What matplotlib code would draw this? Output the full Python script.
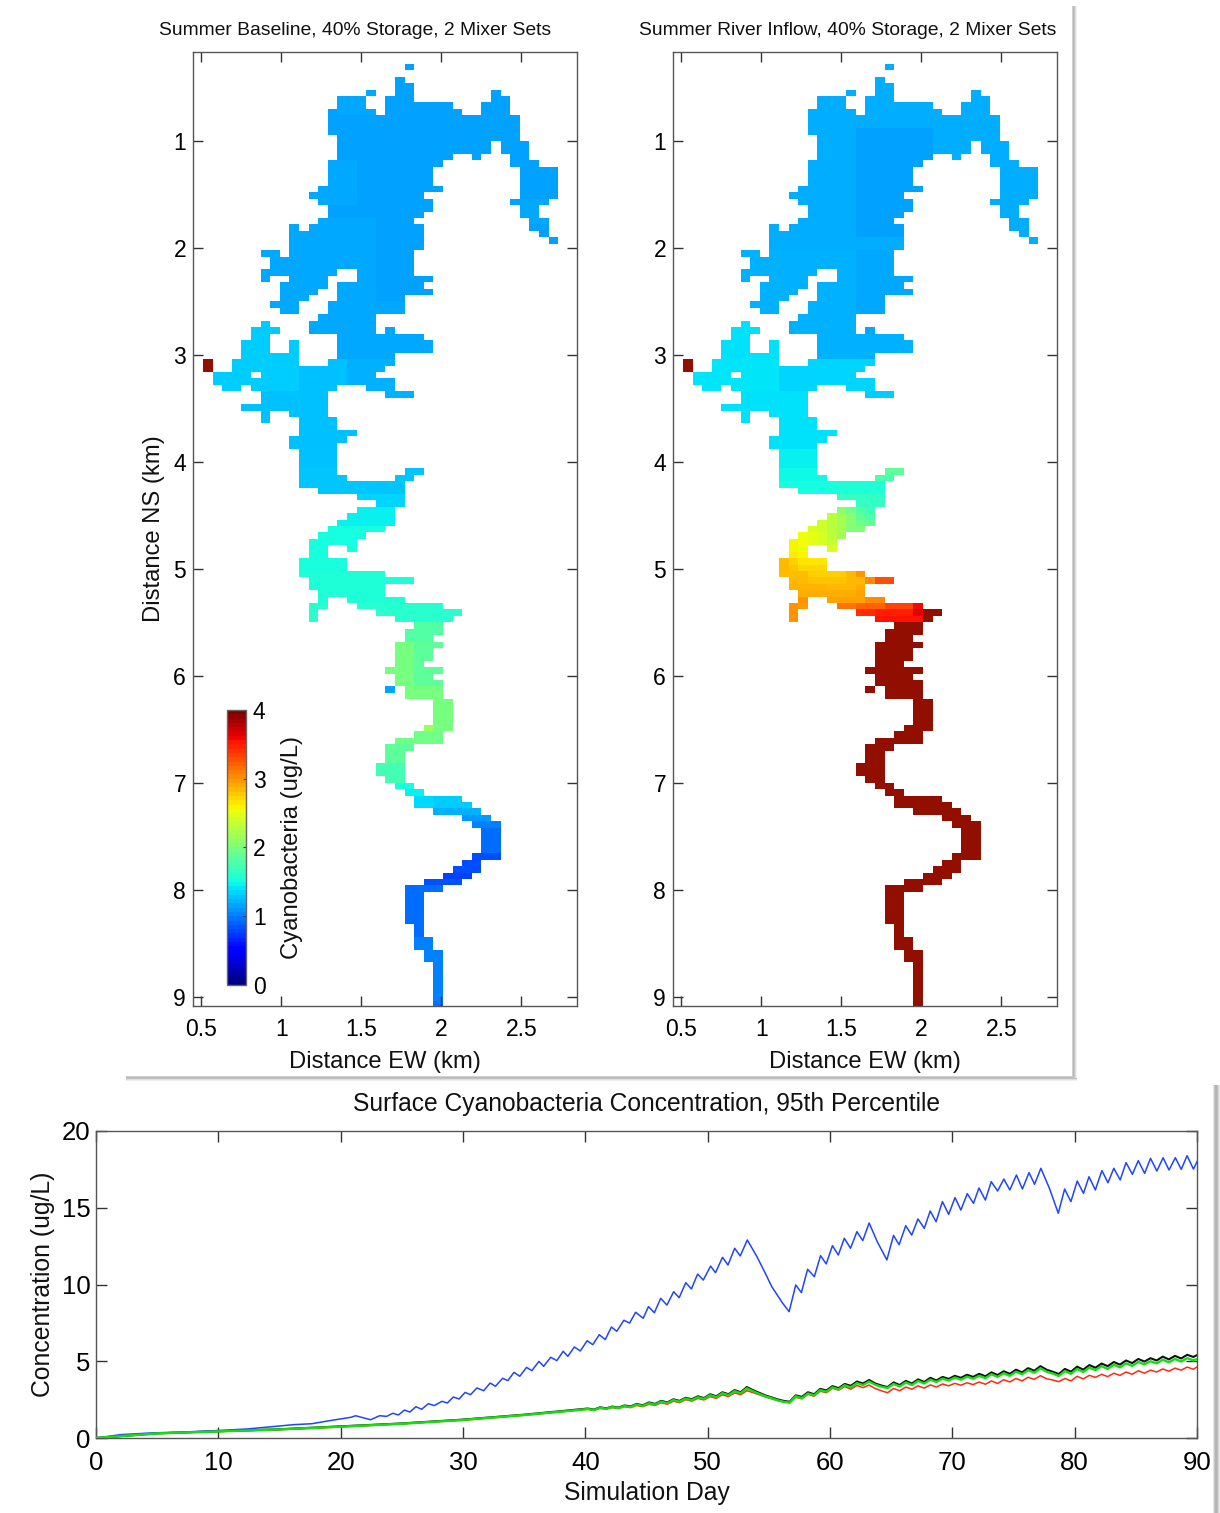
import numpy as np
import matplotlib
matplotlib.use("Agg")
import matplotlib.pyplot as plt
from matplotlib.patches import Rectangle
from matplotlib.colors import ListedColormap

plt.rcParams['font.family'] = ['Liberation Sans', 'DejaVu Sans']

# ---- lake outline: (row, first column, last column); cells are 0.06 km square
LAKE_RUNS = [
 (0,21,21),(2,20,20),(3,20,21),(4,17,17),(4,20,21),(4,30,30),(5,14,16),(5,19,21),(5,30,31),
 (6,14,16),(6,19,25),(6,29,31),(7,13,17),(7,19,26),(7,29,31),(8,13,32),(9,13,32),(10,13,32),
 (11,14,32),(12,14,29),(12,31,33),(13,14,29),(13,31,33),(14,14,25),(14,28,28),(14,32,33),
 (15,13,24),(15,32,34),(16,13,23),(16,33,36),(17,13,23),(17,33,36),(18,13,23),(18,33,36),
 (19,12,24),(19,33,36),(20,11,22),(20,33,36),(21,12,23),(21,32,35),(22,13,23),(22,33,34),
 (23,13,22),(23,33,34),(24,12,21),(24,34,35),(25,9,9),(25,11,22),(25,34,35),(26,9,22),(26,35,35),
 (27,9,22),(27,36,36),(28,9,22),(29,6,7),(29,9,21),(30,7,21),(31,7,21),(32,6,13),(32,16,21),
 (33,6,6),(33,9,12),(33,16,23),(34,8,12),(34,14,22),(35,8,11),(35,14,23),(36,8,10),(36,14,20),
 (37,7,9),(37,13,20),(38,8,9),(38,13,20),(39,12,17),(40,6,6),(40,11,17),(41,5,7),(41,11,17),(41,19,19),
 (42,5,6),(42,14,22),(43,4,6),(43,9,9),(43,14,23),(44,4,6),(44,9,9),(44,14,23),(45,4,9),(45,14,19),
 (46,0,0),(46,3,9),(46,13,19),(47,0,0),(47,3,18),(48,1,4),(48,6,17),(49,1,19),(50,2,3),(50,5,13),(50,17,19),
 (51,6,12),(51,19,21),(52,6,12),(53,4,12),(54,6,6),(54,9,12),(55,6,6),(55,10,13),(56,10,13),(57,10,15),
 (58,9,14),(59,9,13),(60,10,13),(61,10,13),(62,10,13),(63,10,13),(63,21,22),(64,10,14),(64,20,21),
 (65,10,20),(66,12,20),(67,16,20),(68,18,20),(69,16,19),(70,15,19),(71,14,19),(72,13,18),(73,12,16),
 (74,11,15),(75,11,12),(75,15,15),(76,11,12),(77,10,14),(78,10,14),(79,10,18),(80,11,21),(81,11,18),
 (82,12,18),(83,12,12),(83,15,20),(84,11,12),(84,16,24),(85,11,11),(85,18,26),(86,11,11),(86,20,25),
 (87,22,24),(88,21,24),(89,21,23),(90,20,24),(91,20,23),(92,20,23),(93,20,22),(94,19,24),(95,20,23),
 (96,20,24),(97,19,19),(97,21,24),(98,21,24),(99,24,25),(100,24,25),(101,24,25),(102,24,25),(103,23,25),
 (104,22,24),(105,20,24),(106,19,21),(107,19,20),(108,19,20),(109,18,20),(110,18,20),(111,19,20),
 (112,20,21),(113,21,22),(114,22,26),(115,22,27),(116,24,28),(117,27,29),(118,28,30),(119,29,30),
 (120,29,30),(121,29,30),(122,29,30),(123,28,30),(124,27,28),(125,26,28),(126,25,27),(127,23,26),
 (128,21,24),(129,21,22),(130,21,22),(131,21,22),(132,21,22),(133,21,22),(134,22,22),(135,22,22),
 (136,22,23),(137,22,23),(138,23,24),(139,23,24),(140,24,24),(141,24,24),(142,24,24),(143,24,24),
 (144,24,24),(145,24,24),(146,24,24),
]

# ---- concentration patches: (first row, last row, first col, last col, ug/L), later ones overwrite
BASELINE_VALUES = [
 (0,28,0,37,1.13),(0,7,14,17,1.16),(21,24,33,36,1.17),(15,21,11,15,1.16),(24,28,9,17,1.17),
 (29,45,0,37,1.17),(29,36,18,23,1.14),(37,45,14,23,1.16),(40,45,0,9,1.31),(46,50,1,9,1.31),
 (46,50,10,17,1.26),(46,50,15,19,1.2),(51,64,4,15,1.25),(51,51,19,21,1.2),(63,66,10,22,1.28),
 (67,68,16,20,1.33),(69,71,14,20,1.44),(72,74,10,18,1.5),(75,78,10,15,1.53),(79,83,10,21,1.55),
 (84,86,11,26,1.6),(87,89,20,25,1.8),(90,96,19,21,1.98),(90,96,22,25,1.85),(97,98,21,25,1.97),
 (97,97,19,19,1.15),(99,103,23,25,1.98),(103,103,23,23,2.15),(104,105,20,24,1.95),(106,108,19,21,1.85),
 (109,111,18,20,1.72),(112,112,20,21,1.5),(113,113,21,22,1.44),(114,115,22,27,1.3),(114,115,22,23,1.35),
 (116,116,24,28,1.2),(117,117,27,29,1.1),(118,118,28,30,1.0),(119,122,29,30,0.93),(123,125,26,30,0.8),
 (126,126,25,27,0.75),(127,127,23,26,0.82),(128,135,21,24,0.93),(136,145,22,24,1.0),(146,146,24,24,0.95),
 (46,47,0,0,4.5),
]
RIVER_VALUES = [
 (0,28,0,37,1.18),(10,26,18,25,1.14),(29,45,0,37,1.2),(29,41,18,23,1.16),(40,45,0,9,1.38),(46,50,1,9,1.4),
 (46,50,10,19,1.34),(51,59,4,15,1.38),(51,51,19,21,1.3),(60,62,10,13,1.44),(63,64,10,14,1.47),
 (63,63,21,22,1.85),(64,64,20,21,1.75),(65,66,10,15,1.5),(65,66,16,20,1.55),(67,68,16,20,1.65),
 (69,69,16,16,2.05),(69,69,17,17,1.95),(69,69,18,18,1.8),(69,69,19,19,1.7),
 (70,70,15,15,2.3),(70,70,16,16,2.2),(70,70,17,17,2.05),(70,70,18,18,1.85),(70,70,19,19,1.75),
 (71,71,14,14,2.4),(71,71,15,15,2.3),(71,71,16,16,2.2),(71,71,17,17,2.05),(71,71,18,18,1.95),(71,71,19,19,1.88),
 (72,72,13,13,2.45),(72,72,14,14,2.4),(72,72,15,15,2.3),(72,72,16,16,2.2),(72,72,17,18,2.03),
 (73,73,12,12,2.55),(73,73,13,13,2.5),(73,73,14,14,2.45),(73,73,15,15,2.3),(73,73,16,16,2.2),
 (74,74,11,11,2.6),(74,74,12,12,2.55),(74,74,13,13,2.5),(74,74,14,14,2.45),(74,74,15,15,2.35),
 (75,75,11,11,2.6),(75,75,12,12,2.55),(75,75,15,15,2.45),(76,76,11,11,2.65),(76,76,12,12,2.6),
 (77,77,10,10,2.85),(77,77,11,11,2.75),(77,77,12,14,2.67),(78,78,10,10,2.85),(78,78,11,11,2.8),(78,78,12,14,2.72),
 (79,79,10,12,2.83),(79,79,13,16,2.75),(79,79,17,17,2.85),(79,79,18,18,3.0),
 (80,80,10,12,2.85),(80,80,13,16,2.8),(80,80,17,18,2.85),(80,80,19,19,3.05),(80,80,20,21,3.3),
 (81,81,11,14,2.88),(81,81,15,17,2.85),(81,81,18,19,2.9),(82,82,12,17,2.9),(82,82,18,19,2.95),
 (83,83,12,12,3.0),(83,83,15,18,2.95),(83,83,19,20,3.05),(84,86,11,11,3.0),(84,84,12,12,2.97),
 (84,84,16,17,3.15),(84,84,18,20,3.22),(84,84,21,23,3.35),(84,84,24,24,3.6),(84,84,25,25,4.5),
 (85,85,18,19,3.45),(85,85,20,23,3.5),(85,85,24,24,3.65),(85,85,25,26,4.5),
 (86,86,20,24,3.55),(86,86,25,25,4.5),(87,146,0,37,4.5),(46,47,0,0,4.5),
]

# ---- bottom panel: turning points
BLUE_DAYS = [0,2.04,4.52,7.14,9.77,12.39,14.14,16.18,17.64,19.1,20.85,21.22,22.45,23.18,23.76,24.26,24.72,25.22,25.66,
 26.15,26.62,27.17,27.64,28.28,28.72,29.21,29.68,30.17,30.61,31.14,31.69,32.22,32.65,33.24,33.67,34.17,34.64,35.19,
 35.63,36.21,36.59,37.17,37.67,38.19,38.57,39.10,39.59,40.15,40.61,41.14,41.63,42.13,42.57,43.15,43.62,44.11,44.73,
 45.16,45.64,46.16,46.67,47.22,47.67,48.21,48.67,49.18,49.64,50.24,50.64,51.21,51.66,52.21,52.66,53.24,54.03,54.78,
 55.24,56.14,56.66,57.20,57.66,58.17,58.72,59.23,59.69,60.20,60.68,61.17,61.68,62.20,62.68,63.20,63.86,64.65,65.19,
 65.65,66.19,66.68,67.19,67.71,68.19,68.67,69.19,69.70,70.22,70.70,71.22,71.73,72.18,72.70,73.18,73.70,74.21,74.70,
 75.24,75.73,76.27,76.72,77.24,77.94,78.66,79.18,79.69,80.21,80.72,81.17,81.69,82.23,82.72,83.20,83.72,84.20,84.72,
 85.20,85.72,86.20,86.72,87.23,87.71,88.23,88.71,89.19,89.71,90.0]
BLUE_CONC = [0,0.22,0.33,0.39,0.48,0.59,0.72,0.87,0.93,1.13,1.35,1.45,1.19,1.45,1.41,1.61,1.50,1.82,1.69,
 2.04,1.87,2.24,2.11,2.39,2.28,2.67,2.54,2.97,2.82,3.26,3.08,3.58,3.37,3.89,3.74,4.28,4.02,4.60,
 4.39,4.99,4.67,5.26,5.04,5.65,5.32,5.93,5.67,6.34,6.08,6.73,6.41,7.23,6.95,7.67,7.49,8.19,7.80,
 8.56,8.16,9.10,8.66,9.53,9.14,10.12,9.71,10.68,10.29,11.20,10.77,11.77,11.27,12.36,11.86,12.90,11.81,10.62,
 9.86,8.77,8.23,9.97,9.47,10.99,10.51,11.88,11.34,12.53,11.92,13.01,12.36,13.44,12.86,14.01,12.79,11.60,13.20,
 12.59,13.83,13.22,14.27,13.66,14.79,14.09,15.40,14.57,15.66,14.85,15.92,15.29,16.29,15.50,16.70,16.09,16.87,16.16,
 17.13,16.22,17.29,16.53,17.57,16.26,14.64,16.22,15.40,16.74,15.94,17.02,16.16,17.42,16.63,17.57,16.81,17.94,17.18,
 18.07,17.24,18.22,17.39,18.26,17.46,18.26,17.50,18.39,17.52,18.0]

LOW_DAYS = [0,5,10,15,20,25,30,35,38,
 40.2,40.7,41.2,41.7,42.2,42.7,43.2,43.7,44.2,44.7,45.2,45.7,46.2,46.7,47.2,47.7,48.2,48.7,49.2,49.7,
 50.2,50.7,51.2,51.7,52.2,52.7,53.2,53.7,54.2,54.7,55.2,55.7,56.2,56.7,57.2,57.7,58.2,58.7,59.2,59.7,
 60.2,60.7,61.2,61.7,62.2,62.7,63.2,63.7,64.2,64.7,65.2,65.7,66.2,66.7,67.2,67.7,68.2,68.7,69.2,69.7,
 70.2,70.7,71.2,71.7,72.2,72.7,73.2,73.7,74.2,74.7,75.2,75.7,76.2,76.7,77.2,77.7,78.2,78.7,79.2,79.7,
 80.2,80.7,81.2,81.7,82.2,82.7,83.2,83.7,84.2,84.7,85.2,85.7,86.2,86.7,87.2,87.7,88.2,88.7,89.2,89.7,90]
BLACK_CONC = [0,0.3,0.44,0.57,0.76,0.95,1.2,1.52,1.75,
 1.92,1.85,2.00,1.93,2.05,1.98,2.12,2.06,2.22,2.13,2.32,2.22,2.42,2.32,2.52,2.42,2.62,2.52,2.72,2.60,
 2.85,2.72,2.98,2.85,3.12,2.98,3.32,3.12,2.95,2.78,2.65,2.52,2.42,2.36,2.78,2.68,2.98,2.85,3.20,3.10,
 3.38,3.25,3.52,3.40,3.68,3.55,3.78,3.55,3.42,3.32,3.62,3.45,3.72,3.55,3.82,3.65,3.92,3.75,3.98,3.85,
 4.05,3.92,4.12,3.98,4.18,4.02,4.28,4.10,4.35,4.18,4.45,4.28,4.55,4.38,4.68,4.45,4.32,4.17,4.50,4.32,
 4.65,4.45,4.75,4.58,4.85,4.68,4.95,4.78,5.05,4.88,5.15,4.98,5.20,5.05,5.30,5.12,5.35,5.18,5.42,5.28,5.40]
GREEN_CONC = [0,0.3,0.43,0.56,0.74,0.93,1.18,1.5,1.72,
 1.89,1.82,1.97,1.9,2.02,1.95,2.08,2.02,2.18,2.09,2.27,2.17,2.37,2.27,2.47,2.37,2.57,2.47,2.66,2.55,
 2.79,2.66,2.92,2.79,3.05,2.92,3.24,3.05,2.88,2.72,2.6,2.46,2.36,2.3,2.72,2.6,2.9,2.78,3.12,3.02,
 3.3,3.17,3.44,3.3,3.58,3.45,3.68,3.47,3.34,3.26,3.52,3.36,3.62,3.45,3.72,3.55,3.8,3.65,3.87,3.74,
 3.94,3.8,4.0,3.86,4.05,3.9,4.15,3.98,4.22,4.05,4.31,4.15,4.42,4.25,4.54,4.32,4.2,4.04,4.36,4.18,
 4.5,4.3,4.59,4.42,4.68,4.5,4.77,4.6,4.86,4.7,4.95,4.8,5.0,4.86,5.1,4.93,5.15,4.98,5.2,5.06,5.14]
RED_CONC = [0,0.3,0.42,0.54,0.72,0.92,1.16,1.48,1.7,
 1.87,1.8,1.94,1.88,1.98,1.92,2.04,1.98,2.12,2.04,2.2,2.12,2.3,2.2,2.4,2.3,2.5,2.4,2.58,2.48,
 2.7,2.58,2.82,2.7,2.94,2.82,3.08,2.96,2.82,2.68,2.56,2.44,2.36,2.3,2.66,2.55,2.85,2.72,3.05,2.95,
 3.24,3.12,3.35,3.18,3.42,3.28,3.45,3.22,3.08,2.95,3.22,3.08,3.32,3.18,3.4,3.25,3.46,3.32,3.52,3.4,
 3.56,3.44,3.6,3.48,3.65,3.5,3.72,3.55,3.8,3.65,3.88,3.72,3.96,3.82,4.06,3.86,3.78,3.67,3.88,3.72,
 4.02,3.85,4.08,3.95,4.15,4.0,4.22,4.08,4.3,4.15,4.38,4.22,4.42,4.3,4.5,4.35,4.55,4.42,4.62,4.48,4.63]

CBAR_TICKS = [0, 1, 2, 3, 4]
X_TICKS = [0.5, 1, 1.5, 2, 2.5]
X_TICK_LABELS = ['0.5', '1', '1.5', '2', '2.5']
Y_TICKS = [1, 2, 3, 4, 5, 6, 7, 8, 9]
DAY_TICKS = [0, 10, 20, 30, 40, 50, 60, 70, 80, 90]
CONC_TICKS = [0, 5, 10, 15, 20]

W, H = 1220, 1513
fig = plt.figure(figsize=(W/100, H/100), dpi=100, facecolor='white')

def px_axes(x0, y0, x1, y1, **kw):
    return fig.add_axes([x0/W, 1-y1/H, (x1-x0)/W, (y1-y0)/H], **kw)

def band(x0, y0, x1, y1, colour):
    fig.add_artist(Rectangle((x0/W, 1-y1/H), (x1-x0)/W, (y1-y0)/H, transform=fig.transFigure,
                             facecolor=colour, edgecolor='none', zorder=-5))

# soft drop shadows of the two pasted pictures
for i, c in enumerate(['#d0d0d0', '#b8b8b8', '#c4c4c4', '#dedede', '#f0f0f0']):
    band(1072+i, 6, 1073+i, 1078, c)
    band(126, 1076+i, 1077, 1077+i, c)
for i, c in enumerate(['#e4e4e4', '#c8c8c8', '#b4b4b4', '#b4b4b4', '#c0c0c0', '#d4d4d4', '#e8e8e8']):
    band(1213+i, 1085, 1214+i, 1513, c)

# panels: fine jet, with the slightly warmer dark red of the source image
fine = plt.get_cmap('jet', 256)(np.arange(256))
fine[-6:, :3] = [0x92/255, 0x0f/255, 0]
panel_cmap = ListedColormap(fine)
bar_cmap = plt.get_cmap('jet', 64)
EDGE = '#555555'

def build_grid(patches):
    vals = np.full((147, 38), np.nan)
    for r0, r1, c0, c1, v in patches:
        vals[r0:r1+1, c0:c1+1] = v
    keep = np.zeros_like(vals, dtype=bool)
    for r, c0, c1 in LAKE_RUNS:
        keep[r, c0:c1+1] = True
    return np.ma.masked_where(~keep | np.isnan(vals), vals)

x_edges = 0.51 + 0.06*np.arange(39)
y_edges = 0.281 + 0.05994*np.arange(148)

def lake_panel(x0, patches, title, title_centre, ylabel):
    ax = px_axes(x0, 52, x0+384, 1006)
    ax.pcolormesh(x_edges, y_edges, build_grid(patches), cmap=panel_cmap, vmin=0, vmax=4, linewidth=0, antialiased=False)
    ax.set_xlim(0.448, 2.848)
    ax.set_ylim(9.08, 0.169)
    ax.set_xticks(X_TICKS, X_TICK_LABELS)
    ax.set_yticks(Y_TICKS)
    ax.tick_params(direction='in', top=True, right=True, length=7, width=1.0, color='#333333', labelsize=16.5)
    ax.tick_params(axis='x', pad=9)
    ax.tick_params(axis='y', pad=5)
    for s in ax.spines.values():
        s.set_color(EDGE); s.set_linewidth(1.0)
    ax.set_xlabel('Distance EW (km)', fontsize=17.1, labelpad=6.5, color='#111111')
    if ylabel:
        ax.set_ylabel('Distance NS (km)', fontsize=17.1, labelpad=6, color='#111111')
    ax.set_title(title, fontsize=13.85, pad=12.5, color='#111111', x=(title_centre-x0)/384)
    return ax

lake_panel(193, BASELINE_VALUES, 'Summer Baseline, 40% Storage, 2 Mixer Sets', 355, True)
lake_panel(673, RIVER_VALUES, 'Summer River Inflow, 40% Storage, 2 Mixer Sets', 848, False)

# colour bar inside left panel
cax = px_axes(227, 710, 246, 985)
sm = plt.cm.ScalarMappable(norm=plt.Normalize(0, 4), cmap=bar_cmap)
cb = fig.colorbar(sm, cax=cax, ticks=CBAR_TICKS)
cb.ax.tick_params(labelsize=16.5, length=2, width=0.8, direction='in', pad=5, color='#333333')
cb.outline.set_edgecolor('#666666'); cb.outline.set_linewidth(1.0)
cb.set_label('Cyanobacteria (ug/L)', fontsize=17.2, labelpad=11, color='#111111')

# time series
ax = px_axes(96, 1131, 1197, 1438)
ax.plot(LOW_DAYS, BLACK_CONC, color='#111111', lw=1.5, zorder=2)
ax.plot(LOW_DAYS, RED_CONC, color='#ff2a10', lw=1.1, zorder=3)
ax.plot(BLUE_DAYS, BLUE_CONC, color='#1f45ff', lw=1.1, zorder=3)
ax.plot(LOW_DAYS, GREEN_CONC, color='#10e010', lw=1.7, zorder=4)
ax.set_xlim(0, 90)
ax.set_ylim(0, 20)
ax.set_xticks(DAY_TICKS)
ax.set_yticks(CONC_TICKS)
ax.tick_params(direction='in', top=True, right=True, length=8, width=1.0, color='#333333', labelsize=18.5)
ax.tick_params(axis='x', pad=9)
ax.tick_params(axis='y', pad=4)
for s in ax.spines.values():
    s.set_color(EDGE); s.set_linewidth(1.0)
ax.set_xlabel('Simulation Day', fontsize=17.8, labelpad=5, color='#111111')
ax.set_ylabel('Concentration (ug/L)', fontsize=17.8, labelpad=5, color='#111111')
ax.set_title('Surface Cyanobacteria Concentration, 95th Percentile', fontsize=17.7, pad=14.5, color='#111111')

fig.savefig('out.png', dpi=100)
